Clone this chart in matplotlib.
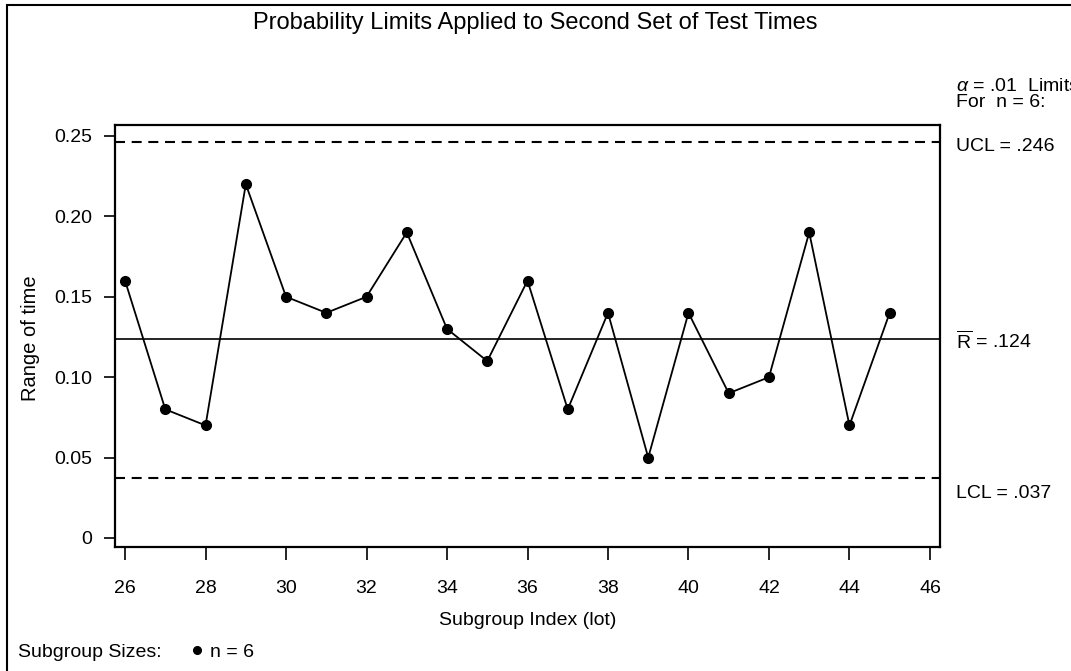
import matplotlib
matplotlib.use("Agg")
import matplotlib.pyplot as plt
from matplotlib.patches import Rectangle
from matplotlib.lines import Line2D

plt.rcParams['font.family'] = ['Liberation Sans', 'DejaVu Sans']
plt.rcParams['mathtext.fontset'] = 'custom'
plt.rcParams['mathtext.rm'] = 'Liberation Sans'
plt.rcParams['mathtext.it'] = 'Liberation Sans:italic'

lots = [26, 27, 28, 29, 30, 31, 32, 33, 34, 35, 36, 37, 38, 39, 40, 41, 42, 43, 44, 45]
ranges = [0.16, 0.08, 0.07, 0.22, 0.15, 0.14, 0.15, 0.19, 0.13, 0.11,
          0.16, 0.08, 0.14, 0.05, 0.14, 0.09, 0.10, 0.19, 0.07, 0.14]
ucl = 0.246
rbar = 0.124
lcl = 0.037
xticks = [26, 28, 30, 32, 34, 36, 38, 40, 42, 44, 46]
yticks = [0, 0.05, 0.10, 0.15, 0.20, 0.25]
ytick_labels = ['0', '0.05', '0.10', '0.15', '0.20', '0.25']

W, H = 1071, 671
fig = plt.figure(figsize=(W / 100, H / 100), dpi=100)
ax = fig.add_axes([115 / W, 1 - 547 / H, (940 - 115) / W, (547 - 125) / H])


def fy(py):
    return 1 - py / H


fs = 14
ax.axhline(ucl, color='black', lw=1.5, dashes=(4.8, 3.2))
ax.axhline(lcl, color='black', lw=1.5, dashes=(4.8, 3.2))
ax.axhline(rbar, color='black', lw=1.2)
ax.plot(lots, ranges, color='black', lw=1.3, marker='o', markersize=7,
        markerfacecolor='black', markeredgecolor='black')

ax.set_xlim(25.75, 46.25)
ax.set_ylim(-0.0056, 0.2568)
ax.set_xticks(xticks)
ax.set_xticklabels([str(t) for t in xticks], fontsize=fs)
ax.set_yticks(yticks)
ax.set_yticklabels(ytick_labels, fontsize=fs)
ax.tick_params(axis='y', direction='out', length=8, width=1.2, pad=8.5)
ax.tick_params(axis='x', direction='out', length=9, width=1.2, pad=14.5)
for s in ax.spines.values():
    s.set_linewidth(1.6)

# axis labels
fig.text(527.5 / W, fy(625), 'Subgroup Index (lot)', ha='center', va='baseline', fontsize=fs)
fig.text(31 / W, fy(338), 'Range of time', ha='center', va='center',
         rotation=90, fontsize=14.5)

# title
fig.text(0.5, fy(29), 'Probability Limits Applied to Second Set of Test Times',
         ha='center', va='baseline', fontsize=17)

# right-side limit labels
xr = 956 / W
fig.text(xr, fy(91), r'$\alpha$ = .01  Limits', ha='left', va='baseline', fontsize=fs)
fig.text(xr, fy(107), 'For  n = 6:', ha='left', va='baseline', fontsize=fs)
fig.text(xr, fy(151), 'UCL = .246', ha='left', va='baseline', fontsize=fs)
fig.text(xr, fy(349), r'$\overline{\mathrm{R}}$ = .124', ha='left', va='baseline', fontsize=fs)
fig.text(xr, fy(498), 'LCL = .037', ha='left', va='baseline', fontsize=fs)

# subgroup size legend
fig.text(18 / W, fy(657), 'Subgroup Sizes:', ha='left', va='baseline', fontsize=fs)
fig.add_artist(Line2D([197 / W], [fy(650)], marker='o', markersize=5.5, color='black',
                      transform=fig.transFigure))
fig.text(210 / W, fy(657), 'n = 6', ha='left', va='baseline', fontsize=fs)

# outer frame
fig.add_artist(Rectangle((7 / W, -0.1), 1.2, fy(5) + 0.1, transform=fig.transFigure,
                         fill=False, edgecolor='black', lw=1.5))

fig.savefig('out.png', dpi=100)
